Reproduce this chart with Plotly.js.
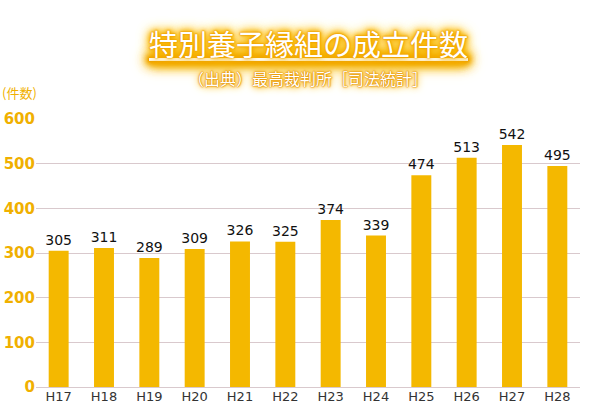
<html>
<head>
<meta charset="utf-8">
<script src="https://cdn.plot.ly/plotly-3.0.1.min.js"></script>
<style>
  body { margin: 0; background: #fff; }
  #chart { width: 594px; height: 418px; }
</style>
</head>
<body>
<div id="chart"></div>
<script>
  // 特別養子縁組の成立件数 (最高裁判所 司法統計)
  const years = ["H17", "H18", "H19", "H20", "H21", "H22", "H23", "H24", "H25", "H26", "H27", "H28"];
  const counts = [305, 311, 289, 309, 326, 325, 374, 339, 474, 513, 542, 495];
  const yTicks = [0, 100, 200, 300, 400, 500, 600];

  const barColor = "#f4b800";
  const glow = "0 0 1px #e89400, 0 0 2px #f0a000, 0 0 5px #f4ab00, 0 0 9px #f7b800, 0 0 14px #ffc400";
  const glowSmall = "0 0 1px #e08c00, 0 0 1px #e08c00, 0 0 2px #e89500, 0 0 3px #f0a000, 0 0 6px #f5b000, 0 0 10px #ffc000";
  const jp = "'Noto Sans CJK JP', 'Noto Sans', sans-serif";

  let data = [{
    x: years,
    y: counts,
    type: "bar",
    marker: { color: barColor },
    text: counts.map(String),
    textposition: "outside",
    constraintext: "none",
    cliponaxis: false,
    textfont: { family: "DejaVu Sans, Verdana, sans-serif", size: 14, color: "#111" },
    hoverinfo: "x+y"
  }];

  let layout = {
    width: 594,
    height: 418,
    margin: { l: 36, r: 14, t: 119, b: 31 },
    paper_bgcolor: "#fff",
    plot_bgcolor: "#fff",
    bargap: 0.56,
    showlegend: false,
    xaxis: {
      tickfont: { family: "DejaVu Sans, Verdana, sans-serif", size: 13, color: "#333" },
      showgrid: false,
      showline: false,
      ticks: "",
      fixedrange: true
    },
    yaxis: {
      range: [0, 600],
      tickvals: yTicks,
      tickfont: { family: "DejaVu Sans, Verdana, sans-serif", size: 15, color: "#f0b000", weight: "bold" },
      gridcolor: "#d9c9cd",
      gridwidth: 1,
      zeroline: true,
      zerolinecolor: "#d9c9cd",
      showline: false,
      ticks: "",
      fixedrange: true
    },
    annotations: [
      {
        text: "特別養子縁組の成立件数",
        xref: "paper", yref: "paper", x: 0.5, y: 1, yshift: 76,
        xanchor: "center", yanchor: "middle", showarrow: false,
        font: { family: jp, size: 29, color: "#fff", shadow: glow, lineposition: "under" }
      },
      {
        text: "（出典）最高裁判所［司法統計］",
        xref: "paper", yref: "paper", x: 0.5, y: 1, yshift: 41,
        xanchor: "center", yanchor: "middle", showarrow: false,
        font: { family: jp, size: 16, color: "#fff", shadow: glowSmall }
      },
      {
        text: "(件数)",
        xref: "paper", yref: "paper", x: 0, y: 1, xshift: -36, yshift: 27,
        xanchor: "left", yanchor: "middle", showarrow: false,
        font: { family: jp, size: 13, color: "#f0b000" }
      }
    ]
  };

  let config = { displayModeBar: false, staticPlot: true };

  Plotly.newPlot("chart", data, layout, config);
</script>
</body>
</html>
